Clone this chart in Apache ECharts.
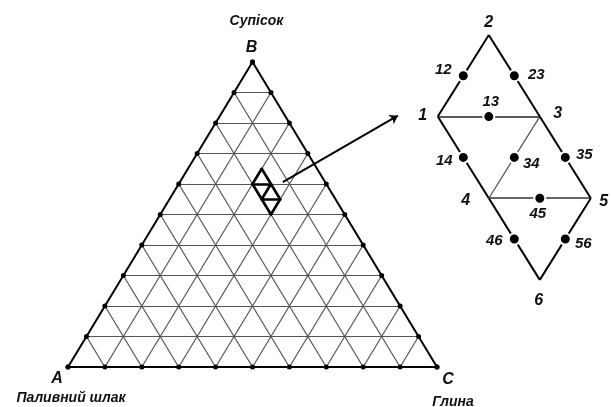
<!DOCTYPE html>
<html><head><meta charset="utf-8">
<script src="https://cdn.jsdelivr.net/npm/echarts@6/dist/echarts.min.js"></script>
<style>html,body{margin:0;padding:0;background:#fff}#c{width:611px;height:407px}</style>
</head><body><div id="c"></div>
<script>
// ---------------- data ----------------
const gridTicks = [0, 0.1, 0.2, 0.3, 0.4, 0.5, 0.6, 0.7, 0.8, 0.9, 1];
const vertexNames = ['A', 'B', 'C'];
const componentNames = ['Паливний шлак', 'Супісок', 'Глина'];
// design points: fractions of A (Паливний шлак), B (Супісок), C (Глина)
const pointLabels = ['1', '2', '3', '4', '5', '6'];
const shareA = [0.20, 0.15, 0.15, 0.20, 0.15, 0.20];
const shareB = [0.60, 0.65, 0.60, 0.55, 0.55, 0.50];
const shareC = [0.20, 0.20, 0.25, 0.25, 0.30, 0.30];
// binary mixture points (edge midpoints)
const mixLabels = ['12', '23', '13', '14', '34', '35', '45', '46', '56'];
const mixA = [0.175, 0.15, 0.175, 0.20, 0.175, 0.15, 0.175, 0.20, 0.175];
const mixB = [0.625, 0.625, 0.60, 0.575, 0.575, 0.575, 0.55, 0.525, 0.525];
const mixC = [0.20, 0.225, 0.225, 0.225, 0.25, 0.275, 0.275, 0.275, 0.30];
const designEdges = [['1','2'],['2','3'],['1','3'],['1','4'],['3','4'],['3','5'],['4','5'],['4','6'],['5','6']];

// ---------------- layout / style ----------------
const MAIN = {left: 68, top: 62, width: 369, height: 305};
const INSET = {left: 420, top: 20, width: 188, height: 280,
  anchorU: 0.5375, anchorPx: 514.3, anchorV: 0.575, anchorPy: 157.4,
  pxPerUnitX: 2040, pxPerUnitY: 1633};
const arrowFrom = [0.582, 0.606];
const arrowTo = [0.894, 0.824];
const innerEdgeStyle = {
  '1-3': {color: '#222', width: 1.6},
  '3-4': {color: '#555', width: 1.3},
  '4-5': {color: '#333', width: 1.5}
};
const pointLabelOffset = {'1': [-15, -1], '2': [0, -12], '3': [18, -3], '4': [-23, 2], '5': [13, 3], '6': [-1, 21]};
const mixLabelOffset = {'12': [-20, -6], '23': [22, -1], '13': [2, -15], '14': [-19, 3], '34': [17, 6],
  '35': [19, -3], '45': [-2, 16], '46': [-20, 2], '56': [18, 5]};
const vertexLetterOffset = [[-11, 12], [-1, -14], [11, 13]];
const componentNameOffset = [[3, 31], [4, -41], [16, 35]];
const FONT = {fontFamily: 'Liberation Sans', fontWeight: 'bold', fontStyle: 'italic', color: '#111'};
const labelCarrier = {color: 'transparent', opacity: 1};

// ternary -> plot coordinates
function tern(a, b, c) { return [c + b / 2, b]; }

const insetXMin = INSET.anchorU - (INSET.anchorPx - INSET.left) / INSET.pxPerUnitX;
const insetXMax = insetXMin + INSET.width / INSET.pxPerUnitX;
const insetYMax = INSET.anchorV + (INSET.anchorPy - INSET.top) / INSET.pxPerUnitY;
const insetYMin = insetYMax - INSET.height / INSET.pxPerUnitY;

// grid lines of the triangle
const interior = gridTicks.slice(1, -1);
const gridLines = [];
interior.forEach(t => {
  gridLines.push({coords: [tern(1 - t, t, 0), tern(0, t, 1 - t)]});
  gridLines.push({coords: [tern(1 - t, 0, t), tern(0, 1 - t, t)]});
  gridLines.push({coords: [tern(t, 0, 1 - t), tern(t, 1 - t, 0)]});
});
const vA = tern(1, 0, 0), vB = tern(0, 1, 0), vC = tern(0, 0, 1);
const outline = [vA, vB, vC, vA];
const edgeDots = [];
gridTicks.forEach(t => {
  edgeDots.push(tern(1 - t, t, 0));
  edgeDots.push(tern(1 - t, 0, t));
  edgeDots.push(tern(0, 1 - t, t));
});
const idx = {};
pointLabels.forEach((p, i) => idx[p] = i);
const pt = p => tern(shareA[idx[p]], shareB[idx[p]], shareC[idx[p]]);
const designLines = designEdges.map(e => ({coords: [pt(e[0]), pt(e[1])]}));
const insetLines = designEdges.map(e => {
  const key = e[0] + '-' + e[1];
  const st = innerEdgeStyle[key] || {color: '#000', width: 2};
  return {coords: [pt(e[0]), pt(e[1])], lineStyle: {color: st.color, width: st.width}};
});
const mixData = mixLabels.map((l, i) => ({value: tern(mixA[i], mixB[i], mixC[i]), name: l,
  label: {offset: mixLabelOffset[l]}}));
const pointData = pointLabels.map((l, i) => ({value: pt(l), name: l, label: {offset: pointLabelOffset[l]}}));
const verts = [vA, vB, vC];
const letterData = vertexNames.map((n, i) => ({value: verts[i], name: n, label: {offset: vertexLetterOffset[i]}}));
const compData = componentNames.map((n, i) => ({value: verts[i], name: n, label: {offset: componentNameOffset[i]}}));

const chart = echarts.init(document.getElementById('c'), null, {renderer: 'canvas'});
const hiddenAxis = {type: 'value', show: false, splitLine: {show: false}};
chart.setOption({
  animation: false,
  backgroundColor: '#fff',
  grid: [
    {left: MAIN.left, top: MAIN.top, width: MAIN.width, height: MAIN.height},
    {left: INSET.left, top: INSET.top, width: INSET.width, height: INSET.height}
  ],
  xAxis: [
    Object.assign({gridIndex: 0, min: 0, max: 1}, hiddenAxis),
    Object.assign({gridIndex: 1, min: insetXMin, max: insetXMax}, hiddenAxis)
  ],
  yAxis: [
    Object.assign({gridIndex: 0, min: 0, max: 1}, hiddenAxis),
    Object.assign({gridIndex: 1, min: insetYMin, max: insetYMax}, hiddenAxis)
  ],
  series: [
    {type: 'lines', coordinateSystem: 'cartesian2d', xAxisIndex: 0, yAxisIndex: 0, silent: true,
      lineStyle: {color: '#555', width: 1.2, opacity: 1}, data: gridLines, z: 1},
    {type: 'line', xAxisIndex: 0, yAxisIndex: 0, data: outline, symbol: 'none', silent: true,
      lineStyle: {color: '#000', width: 2}, clip: false, z: 2},
    {type: 'scatter', xAxisIndex: 0, yAxisIndex: 0, data: edgeDots, symbolSize: 5, silent: true,
      itemStyle: {color: '#000', opacity: 1}, clip: false, z: 3},
    {type: 'lines', coordinateSystem: 'cartesian2d', xAxisIndex: 0, yAxisIndex: 0, silent: true,
      lineStyle: {color: '#000', width: 2.6, opacity: 1, cap: 'round', join: 'round'}, data: designLines, z: 4},
    {type: 'lines', coordinateSystem: 'cartesian2d', xAxisIndex: 0, yAxisIndex: 0, silent: true,
      symbol: ['none', 'arrow'], symbolSize: 8, clip: false,
      lineStyle: {color: '#000', width: 2, opacity: 1}, data: [{coords: [arrowFrom, arrowTo]}], z: 5},
    {type: 'scatter', xAxisIndex: 0, yAxisIndex: 0, data: letterData, symbolSize: 1, silent: true, clip: false,
      itemStyle: labelCarrier,
      label: Object.assign({show: true, position: 'inside', formatter: '{b}', fontSize: 16}, FONT), z: 6},
    {type: 'scatter', xAxisIndex: 0, yAxisIndex: 0, data: compData, symbolSize: 1, silent: true, clip: false,
      itemStyle: labelCarrier,
      label: Object.assign({show: true, position: 'inside', formatter: '{b}', fontSize: 14}, FONT), z: 6},
    {type: 'lines', coordinateSystem: 'cartesian2d', xAxisIndex: 1, yAxisIndex: 1, silent: true, clip: false,
      lineStyle: {color: '#000', width: 2, opacity: 1}, data: insetLines, z: 4},
    {type: 'scatter', xAxisIndex: 1, yAxisIndex: 1, data: mixData, symbolSize: 11, silent: true, clip: false,
      itemStyle: {color: '#000', opacity: 1, borderColor: '#fff', borderWidth: 2},
      label: Object.assign({show: true, position: 'inside', formatter: '{b}', fontSize: 15}, FONT), z: 7},
    {type: 'scatter', xAxisIndex: 1, yAxisIndex: 1, data: pointData, symbolSize: 1, silent: true, clip: false,
      itemStyle: labelCarrier,
      label: Object.assign({show: true, position: 'inside', formatter: '{b}', fontSize: 16}, FONT), z: 7}
  ]
});
</script></body></html>
